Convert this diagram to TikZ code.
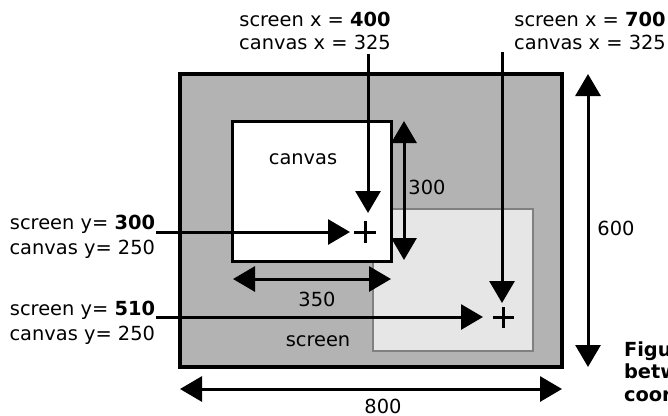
\documentclass[tikz,border=0pt]{standalone}
\usepackage{fontspec}
\setmainfont{DejaVu Sans}
\usetikzlibrary{arrows.meta}
\definecolor{outerfill}{RGB}{179,179,179}
\definecolor{screenfill}{RGB}{230,230,230}
\definecolor{screenedge}{RGB}{128,128,128}
\tikzset{
  lbl/.style={font=\fontsize{19.4}{23}\selectfont, inner sep=0pt, outer sep=0pt, align=center},
  sidelbl/.style={font=\fontsize{19.4}{24.5}\selectfont, inner sep=0pt, outer sep=0pt, align=right, anchor=east},
  caplbl/.style={font=\fontsize{19.4}{22.5}\selectfont\bfseries, inner sep=0pt, outer sep=0pt, align=left, anchor=west},
  bigtip/.tip={Triangle[length=22pt,width=25pt]},
  dimarrow/.style={line width=3pt, bigtip-bigtip},
  ptrarrow/.style={line width=3pt, -bigtip},
  plusmark/.style={line width=3pt},
  outerbox/.style={draw=black, fill=outerfill, line width=3.5pt, inner sep=0pt, outer sep=0pt},
  screenbox/.style={draw=screenedge, fill=screenfill, line width=2.5pt, inner sep=0pt, outer sep=0pt},
  canvasbox/.style={draw=black, fill=white, line width=3pt, inner sep=0pt, outer sep=0pt}
}
\begin{document}
\begin{tikzpicture}[x=1pt,y=-1pt]
\useasboundingbox (0,0) rectangle (668,415);
% boxes
\node[outerbox, minimum width=382pt, minimum height=293pt] (screenarea) at (371,220.5) {};
\node[screenbox, minimum width=160pt, minimum height=142pt] (screenwin) at (453,280) {};
\node[canvasbox, minimum width=159pt, minimum height=140pt] (canvasarea) at (311.5,191) {};
% named points
\coordinate (d800l) at (180,389);
\coordinate (d800r) at (562,389);
\coordinate (d600t) at (588,74);
\coordinate (d600b) at (588,367);
\coordinate (d300t) at (404,121);
\coordinate (d300b) at (404,260);
\coordinate (d350l) at (233,279);
\coordinate (d350r) at (391,279);
\coordinate (px1) at (365,232);
\coordinate (px2) at (503,317);
\coordinate (vx1s) at (368,54);
\coordinate (vx1e) at (368,213);
\coordinate (hy1s) at (156,232);
\coordinate (hy1e) at (350,232);
\coordinate (vx2s) at (502,52);
\coordinate (vx2e) at (502,303);
\coordinate (hy2s) at (156,317);
\coordinate (hy2e) at (483,317);
% dimension arrows
\draw[dimarrow] (d800l) -- (d800r);
\draw[dimarrow] (d600t) -- (d600b);
\draw[dimarrow] (d300t) -- (d300b);
\draw[dimarrow] (d350l) -- (d350r);
% pointer arrows
\draw[ptrarrow] (vx1s) -- (vx1e);
\draw[ptrarrow] (hy1s) -- (hy1e);
\draw[ptrarrow] (vx2s) -- (vx2e);
\draw[ptrarrow] (hy2s) -- (hy2e);
% plus marks
\draw[plusmark] ([xshift=-11pt]px1) -- ([xshift=11pt]px1);
\draw[plusmark] ([yshift=-11pt]px1) -- ([yshift=11pt]px1);
\draw[plusmark] ([xshift=-10.5pt]px2) -- ([xshift=10.5pt]px2);
\draw[plusmark] ([yshift=-10.5pt]px2) -- ([yshift=10.5pt]px2);
% labels
\node[lbl] (topl) at (315,30.5) {screen x = \textbf{400}\\canvas x = 325};
\node[lbl] (topr) at (590,30.5) {screen x = \textbf{700}\\canvas x = 325};
\node[sidelbl] (lefta) at (155,236.6) {screen y= \textbf{300}\\canvas y= 250};
\node[sidelbl] (leftb) at (155,322.8) {screen y= \textbf{510}\\canvas y= 250};
\node[lbl] (canvaslbl) at (303,159) {canvas};
\node[lbl] (screenlbl) at (318,341) {screen};
\node[lbl] (l300) at (427,187) {300};
\node[lbl] (l350) at (317,299) {350};
\node[lbl] (l600) at (616,228) {600};
\node[lbl] (l800) at (383,406) {800};
\node[caplbl] (caption) at (624,371.5) {Figu\\betw\\coor};
\end{tikzpicture}
\end{document}
